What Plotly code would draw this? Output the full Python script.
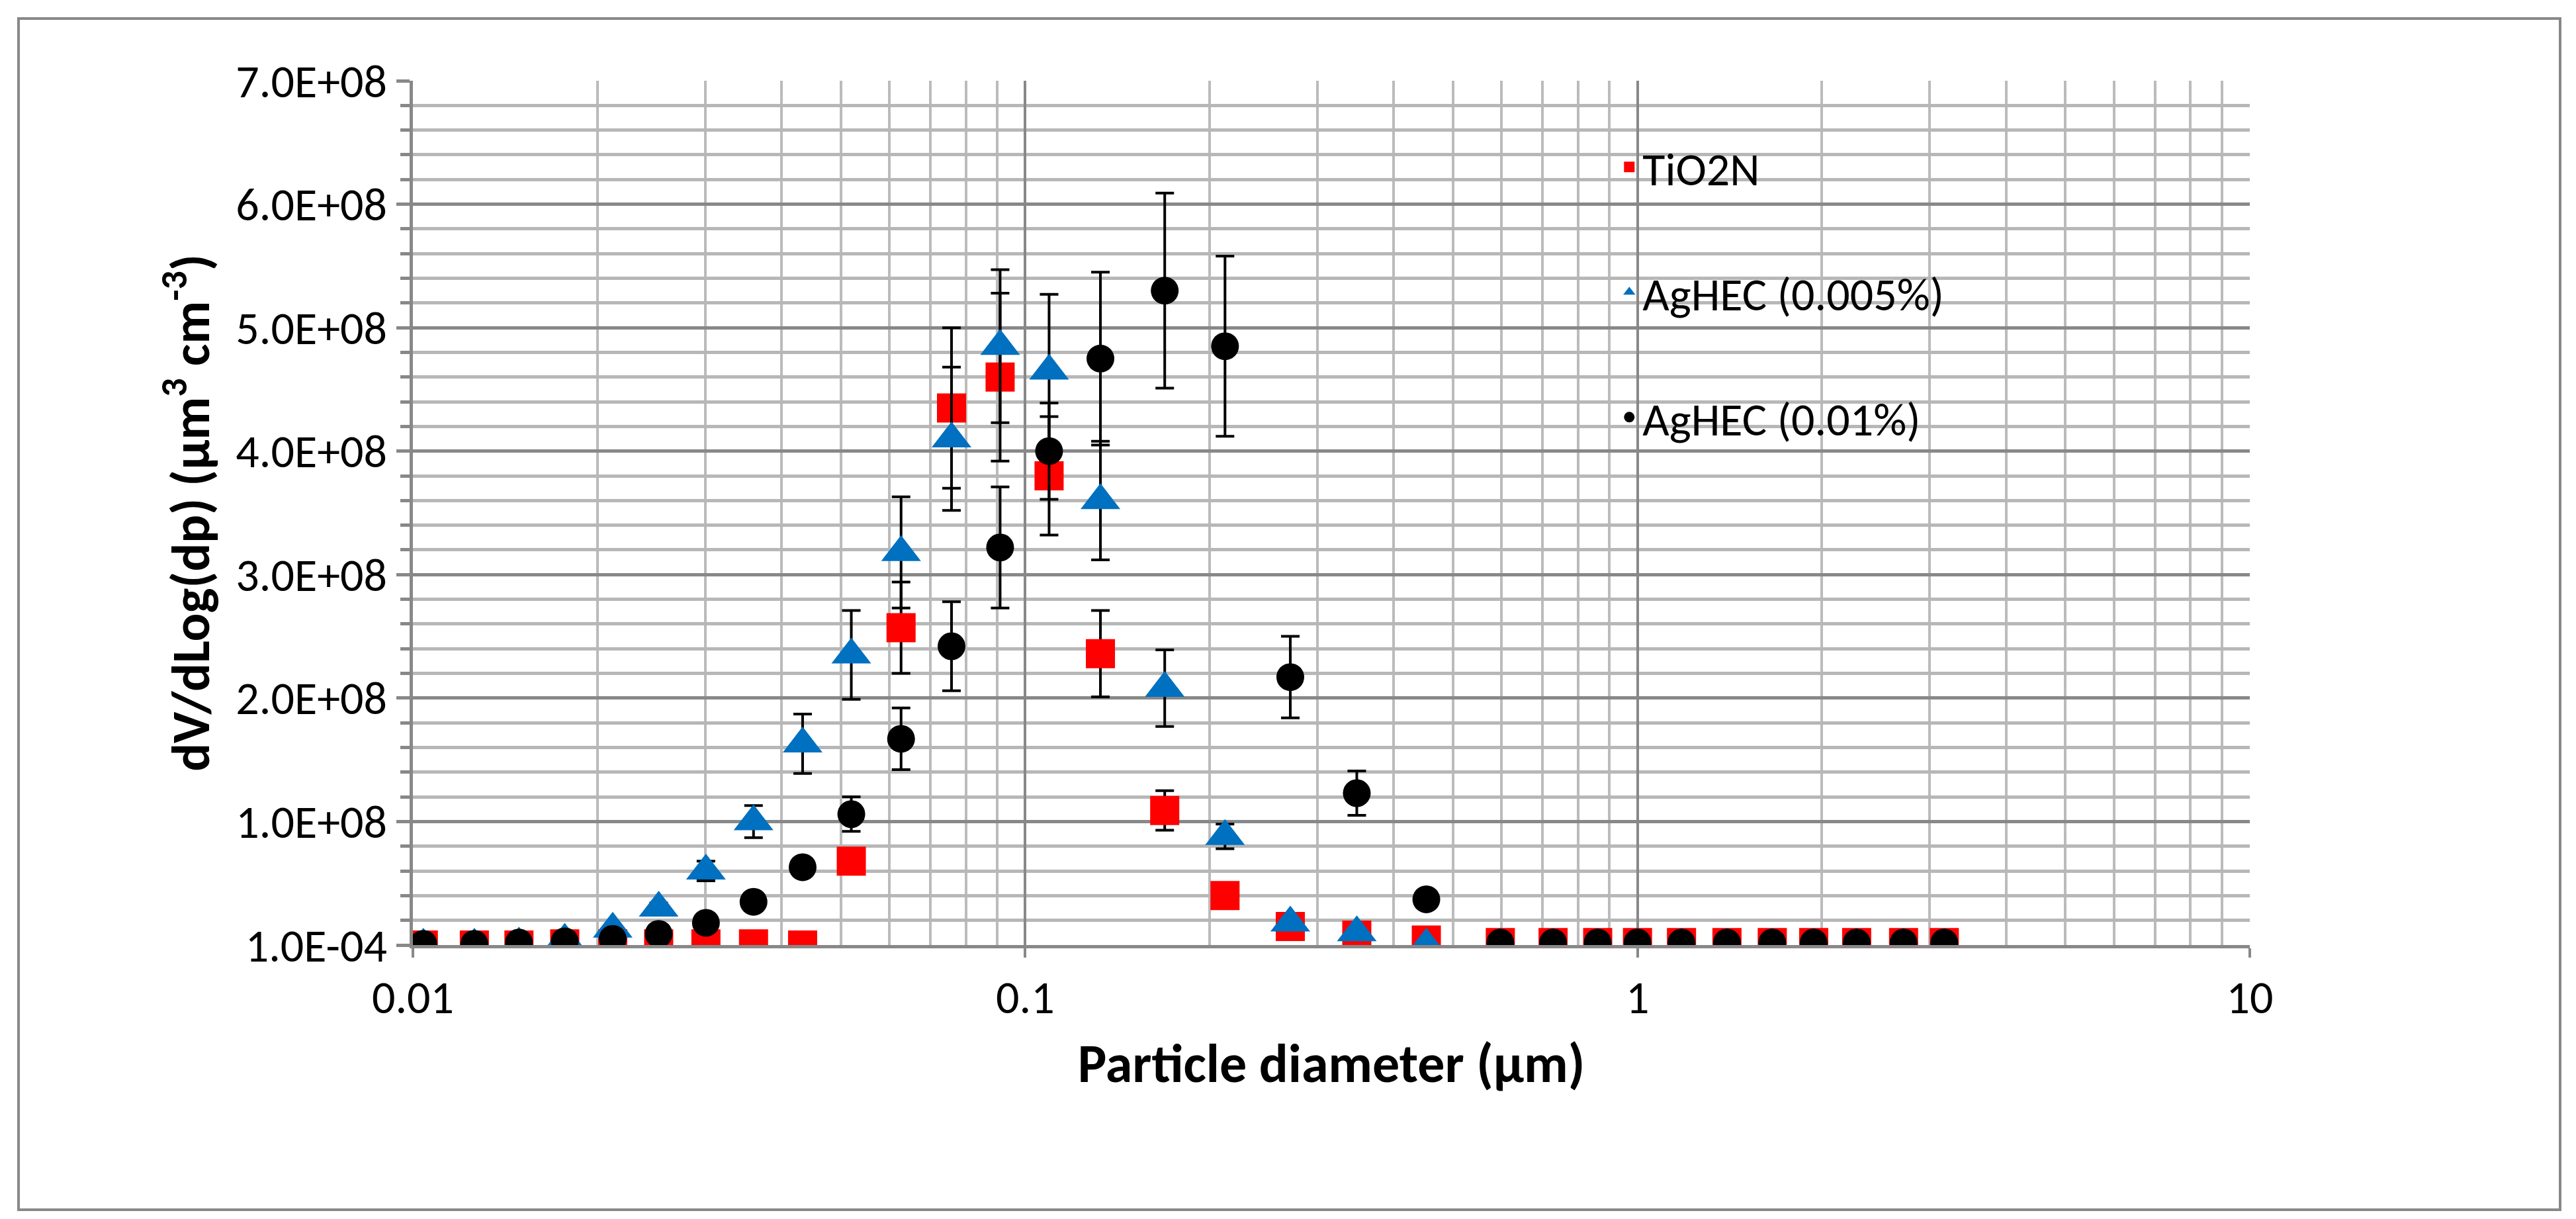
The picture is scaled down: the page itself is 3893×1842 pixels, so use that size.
import plotly.graph_objects as go

# particle diameter bins (um)
dp = [0.0104, 0.0126, 0.0149, 0.0177, 0.0212, 0.0252, 0.0301, 0.0360, 0.0433, 0.0520,
      0.0627, 0.0758, 0.0910, 0.1094, 0.1327, 0.169, 0.212, 0.271, 0.348, 0.452,
      0.597, 0.728, 0.861, 1.0, 1.18, 1.40, 1.66, 1.94, 2.28, 2.72, 3.17]

# values in units of 1e8
tio2n = [0, 0, 0, 0.01, 0.01, 0.01, 0.01, 0.01, 0, 0.68,
         2.57, 4.35, 4.6, 3.8, 2.36, 1.09, 0.4, 0.15, 0.08, 0.04,
         0.02, 0.02, 0.02, 0.02, 0.02, 0.02, 0.02, 0.02, 0.02, 0.02, 0.02]
tio2n_err = [0, 0, 0, 0, 0, 0, 0, 0, 0, 0.05,
             0.37, 0.65, 0.68, 0.48, 0.35, 0.16, 0.02, 0, 0, 0,
             0, 0, 0, 0, 0, 0, 0, 0, 0, 0, 0]

ag005 = [0, 0, 0.01, 0.04, 0.13, 0.3, 0.6, 1.0, 1.63, 2.35,
         3.18, 4.1, 4.85, 4.65, 3.6, 2.08, 0.88, 0.18, 0.1, 0,
         0, 0, 0, 0, 0, 0, 0, 0, 0, 0, 0]
ag005_err = [0, 0, 0, 0, 0.02, 0.04, 0.08, 0.13, 0.24, 0.36,
             0.45, 0.58, 0.62, 0.62, 0.48, 0.31, 0.1, 0.02, 0.01, 0,
             0, 0, 0, 0, 0, 0, 0, 0, 0, 0, 0]

ag01 = [0.01, 0.01, 0.02, 0.03, 0.05, 0.09, 0.18, 0.35, 0.63, 1.06,
        1.67, 2.42, 3.22, 4.0, 4.75, 5.3, 4.85, 2.17, 1.23, 0.37,
        0.02, 0.02, 0.02, 0.02, 0.02, 0.02, 0.02, 0.02, 0.02, 0.02, 0.02]
ag01_err = [0, 0, 0, 0, 0, 0, 0.01, 0.02, 0.03, 0.14,
            0.25, 0.36, 0.49, 0.39, 0.7, 0.79, 0.73, 0.33, 0.18, 0.02,
            0, 0, 0, 0, 0, 0, 0, 0, 0, 0, 0]

y_ticks = [0, 1, 2, 3, 4, 5, 6, 7]
y_labels = ["1.0E-04", "1.0E+08", "2.0E+08", "3.0E+08", "4.0E+08",
            "5.0E+08", "6.0E+08", "7.0E+08"]

FONT = "Carlito, Lato, Liberation Sans, sans-serif"

fig = go.Figure()
series = [
    ("TiO2N", tio2n, tio2n_err, "square", "#ff0000", 44),
    ("AgHEC (0.005%)", ag005, ag005_err, "triangle-up", "#0070c0", 52),
    ("AgHEC (0.01%)", ag01, ag01_err, "circle", "#000000", 42),
]
for name, vals, err, sym, col, size in series:
    fig.add_trace(go.Scatter(
        x=dp, y=[v * 1e8 for v in vals], mode="markers", name=name,
        legendgroup=name,
        marker=dict(symbol=sym, color=col, size=size),
        error_y=dict(type="data", array=[e * 1e8 for e in err], color="black",
                     thickness=4, width=14),
    ))

minor_x = [m * 10 ** d for d in (-2, -1, 0) for m in range(2, 10)]

fig.update_layout(
    width=3893, height=1842,
    paper_bgcolor="white", plot_bgcolor="white",
    margin=dict(l=616, r=501, t=114, b=422),
    font=dict(family=FONT, size=70, color="black"),
    legend=dict(x=0.655, y=0.94, xanchor="left", yanchor="top",
                tracegroupgap=95, itemsizing="trace",
                font=dict(size=70), bgcolor="rgba(0,0,0,0)"),
    shapes=[dict(type="rect", xref="paper", yref="paper",
                 x0=(20 - 616) / 2776, x1=(3861 - 616) / 2776,
                 y0=-(1820 - 1420) / 1306, y1=(1420 - 20) / 1306,
                 line=dict(color="#888888", width=4))],
)
fig.update_xaxes(
    type="log", range=[-2, 1],
    tickvals=[0.01, 0.1, 1, 10], ticktext=["0.01", "0.1", "1", "10"],
    showgrid=True, gridcolor="#888888", gridwidth=4,
    minor=dict(tickvals=minor_x, showgrid=True, gridcolor="#bbbbbb", gridwidth=4),
    showline=True, linecolor="#888888", linewidth=5, mirror=False,
    ticks="outside", tickcolor="#888888", ticklen=14, tickwidth=4,
    title=dict(text="<b>Particle diameter (µm)</b>", font=dict(size=82), standoff=30),
)
fig.update_yaxes(
    range=[0, 7e8],
    tickvals=[v * 1e8 for v in y_ticks], ticktext=y_labels,
    showgrid=True, gridcolor="#888888", gridwidth=5,
    minor=dict(dtick=2e7, showgrid=True, gridcolor="#b7b7b7", gridwidth=5,
               ticks="outside", ticklen=14, tickcolor="#888888", tickwidth=5),
    showline=True, linecolor="#888888", linewidth=5,
    ticks="outside", tickcolor="#888888", ticklen=20, tickwidth=5,
    zeroline=False,
    title=dict(text="<b>dV/dLog(dp) (µm<sup>3</sup> cm<sup>-3</sup>)</b>",
               font=dict(size=80), standoff=15),
)

fig.write_html("out.html")
